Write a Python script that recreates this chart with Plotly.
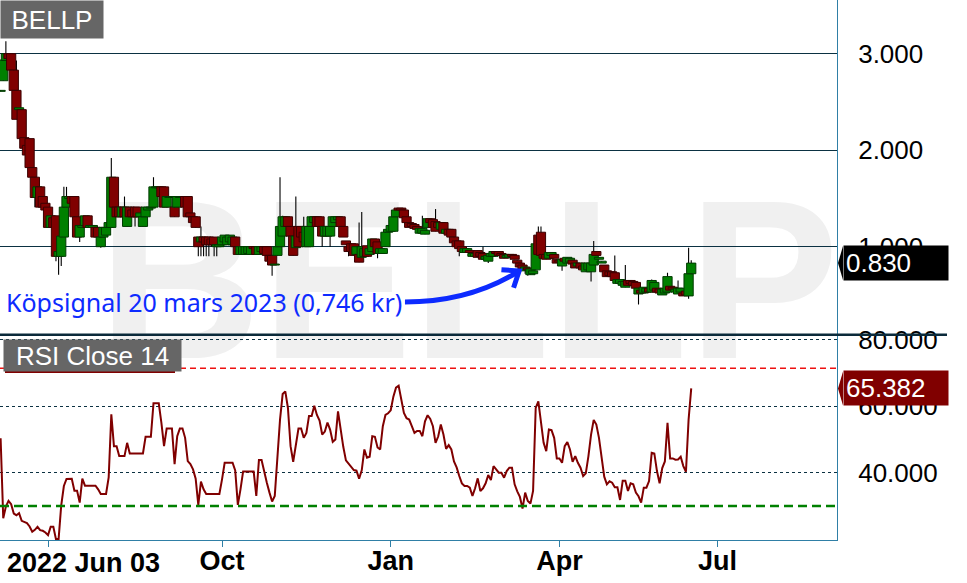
import numpy as np
import pandas as pd
import plotly.graph_objects as go

# ---------------- data ----------------
ticker = "BELLP"
first_date = "2022-06-03"
holidays = ["2022-06-06", "2022-06-24", "2022-12-26", "2023-01-06", "2023-04-07",
            "2023-04-10", "2023-05-01", "2023-05-18", "2023-06-06"]

open_ = [2.61, 2.72, 2.93, 3.00, 3.00, 2.83, 2.62, 2.42, 2.42, 2.13,
         2.05, 2.12, 1.82, 1.72, 1.51, 1.62, 1.52, 1.45, 1.41, 1.20,
         1.30, 1.32, 0.90, 0.90, 1.10, 1.41, 1.50, 1.52, 1.52, 1.31,
         1.10, 1.20, 1.22, 1.32, 1.20, 1.20, 1.20, 1.20, 1.00, 1.10,
         1.12, 1.20, 1.20, 1.72, 1.41, 1.41, 1.31, 1.41, 1.21, 1.41,
         1.38, 1.41, 1.41, 1.31, 1.21, 1.31, 1.38, 1.40, 1.41, 1.61,
         1.61, 1.62, 1.62, 1.41, 1.51, 1.51, 1.41, 1.41, 1.51, 1.51,
         1.52, 1.52, 1.35, 1.31, 1.31, 1.10, 1.05, 1.10, 1.10, 1.10,
         1.08, 1.10, 1.00, 1.00, 1.02, 1.05, 1.02, 1.05, 1.02, 1.10,
         1.00, 0.92, 0.92, 0.92, 0.93, 0.92, 1.00, 1.00, 0.92, 0.95,
         1.00, 1.00, 0.91, 0.91, 0.81, 0.91, 1.00, 1.11, 1.21, 1.31,
         1.21, 1.11, 0.99, 1.21, 1.21, 1.15, 1.00, 1.00, 1.21, 1.25,
         1.31, 1.31, 1.21, 1.11, 1.11, 1.11, 1.21, 1.25, 1.28, 1.31,
         1.21, 1.06, 1.00, 1.03, 1.03, 0.92, 0.92, 0.89, 0.90, 1.01,
         0.92, 0.95, 1.08, 1.05, 0.93, 0.93, 1.00, 1.15, 1.16, 1.16,
         1.31, 1.40, 1.40, 1.38, 1.31, 1.25, 1.24, 1.23, 1.21, 1.14,
         1.14, 1.13, 1.20, 1.29, 1.28, 1.26, 1.25, 1.18, 1.25, 1.14,
         1.18, 1.18, 1.10, 1.06, 1.06, 1.00, 0.94, 0.94, 0.96, 0.90,
         0.90, 0.96, 0.94, 0.93, 0.87, 0.85, 0.90, 0.90, 0.95, 0.95,
         0.93, 0.92, 0.89, 0.89, 0.92, 0.91, 0.86, 0.83, 0.81, 0.75,
         0.78, 0.71, 0.72, 0.76, 1.12, 1.15, 0.92, 0.92, 0.88, 0.91,
         0.92, 0.87, 0.86, 0.80, 0.88, 0.83, 0.84, 0.86, 0.83, 0.80,
         0.83, 0.80, 0.74, 0.76, 0.74, 0.81, 0.95, 0.87, 0.83, 0.81,
         0.75, 0.74, 0.74, 0.73, 0.62, 0.62, 0.60, 0.58, 0.65, 0.65,
         0.64, 0.63, 0.51, 0.55, 0.52, 0.53, 0.57, 0.53, 0.55, 0.57,
         0.56, 0.50, 0.52, 0.53, 0.59, 0.58, 0.53, 0.51, 0.53, 0.52,
         0.54, 0.49, 0.72]

close = [2.62, 2.935, 3.00, 2.95, 2.83, 2.62, 2.32, 2.44, 2.12, 2.02,
         1.95, 1.82, 1.72, 1.51, 1.62, 1.41, 1.41, 1.38, 1.20, 1.32,
         1.20, 0.90, 0.95, 1.11, 1.41, 1.52, 1.52, 1.45, 1.31, 1.10,
         1.22, 1.22, 1.32, 1.20, 1.22, 1.22, 1.10, 1.10, 1.10, 1.20,
         1.20, 1.25, 1.72, 1.41, 1.31, 1.31, 1.41, 1.31, 1.41, 1.31,
         1.31, 1.31, 1.31, 1.35, 1.31, 1.41, 1.41, 1.41, 1.62, 1.62,
         1.62, 1.52, 1.41, 1.52, 1.52, 1.52, 1.31, 1.52, 1.52, 1.52,
         1.41, 1.31, 1.31, 1.25, 1.20, 1.00, 1.10, 1.05, 1.02, 1.02,
         1.02, 1.02, 1.02, 1.02, 1.10, 1.12, 1.10, 1.12, 1.10, 1.00,
         0.92, 1.00, 1.00, 1.00, 1.00, 1.00, 0.98, 0.92, 1.00, 1.00,
         0.93, 0.91, 0.85, 0.81, 0.82, 1.00, 1.21, 1.31, 1.31, 1.21,
         1.11, 0.91, 1.11, 1.00, 1.10, 1.05, 1.21, 1.21, 1.31, 1.31,
         1.21, 1.21, 1.11, 1.21, 1.21, 1.21, 1.31, 1.31, 1.31, 1.21,
         1.10, 1.02, 0.95, 0.95, 0.91, 1.00, 0.84, 1.00, 0.98, 0.90,
         0.98, 1.08, 1.00, 0.93, 0.98, 0.98, 1.15, 1.18, 1.22, 1.31,
         1.38, 1.38, 1.38, 1.30, 1.25, 1.20, 1.21, 1.19, 1.18, 1.19,
         1.19, 1.17, 1.29, 1.25, 1.20, 1.16, 1.20, 1.25, 1.14, 1.18,
         1.12, 1.10, 1.04, 1.00, 0.98, 0.95, 0.98, 0.98, 0.94, 0.93,
         0.93, 0.89, 0.90, 0.87, 0.90, 0.91, 0.93, 0.95, 0.93, 0.91,
         0.91, 0.88, 0.91, 0.92, 0.90, 0.87, 0.83, 0.79, 0.77, 0.79,
         0.76, 0.77, 0.75, 1.03, 0.92, 0.91, 0.88, 0.87, 0.94, 0.94,
         0.88, 0.83, 0.84, 0.87, 0.85, 0.89, 0.88, 0.82, 0.78, 0.83,
         0.78, 0.76, 0.83, 0.83, 0.83, 0.92, 0.91, 0.89, 0.85, 0.74,
         0.69, 0.70, 0.69, 0.65, 0.66, 0.66, 0.64, 0.64, 0.60, 0.62,
         0.60, 0.57, 0.57, 0.52, 0.58, 0.57, 0.53, 0.65, 0.63, 0.53,
         0.52, 0.56, 0.57, 0.69, 0.55, 0.56, 0.56, 0.57, 0.57, 0.49,
         0.50, 0.72, 0.83]

high = [2.62, 2.94, 3.13, 3.00, 3.00, 2.83, 2.93, 2.44, 2.42, 2.13,
        2.05, 2.12, 1.92, 1.72, 1.62, 1.62, 1.52, 1.45, 1.41, 1.32,
        1.30, 1.32, 0.95, 1.11, 1.62, 1.62, 1.52, 1.52, 1.52, 1.31,
        1.22, 1.22, 1.32, 1.32, 1.22, 1.22, 1.20, 1.20, 1.10, 1.20,
        1.20, 1.25, 1.92, 1.72, 1.52, 1.41, 1.41, 1.52, 1.41, 1.41,
        1.38, 1.41, 1.41, 1.35, 1.31, 1.41, 1.41, 1.41, 1.72, 1.62,
        1.62, 1.62, 1.62, 1.52, 1.52, 1.52, 1.41, 1.52, 1.52, 1.52,
        1.52, 1.52, 1.35, 1.31, 1.31, 1.10, 1.21, 1.10, 1.10, 1.10,
        1.08, 1.10, 1.02, 1.02, 1.10, 1.12, 1.10, 1.12, 1.10, 1.10,
        1.00, 1.00, 1.00, 1.00, 1.00, 1.00, 1.00, 1.00, 1.00, 1.00,
        1.00, 1.00, 0.91, 0.91, 0.82, 1.00, 1.72, 1.32, 1.31, 1.31,
        1.21, 1.11, 1.52, 1.21, 1.21, 1.31, 1.21, 1.21, 1.31, 1.31,
        1.31, 1.31, 1.21, 1.21, 1.21, 1.31, 1.31, 1.31, 1.31, 1.31,
        1.21, 1.06, 1.00, 1.03, 1.03, 1.00, 1.25, 1.36, 0.98, 1.01,
        0.98, 1.08, 1.08, 1.05, 0.98, 0.98, 1.15, 1.18, 1.22, 1.31,
        1.38, 1.40, 1.40, 1.38, 1.31, 1.25, 1.24, 1.23, 1.21, 1.19,
        1.32, 1.17, 1.29, 1.29, 1.28, 1.39, 1.25, 1.25, 1.25, 1.18,
        1.18, 1.18, 1.10, 1.06, 1.06, 1.00, 0.98, 0.98, 0.96, 0.93,
        0.93, 0.96, 0.94, 1.00, 0.90, 0.91, 0.93, 0.95, 0.95, 0.95,
        0.93, 0.92, 0.91, 0.92, 0.92, 0.91, 0.86, 0.83, 0.81, 0.79,
        0.78, 0.77, 0.75, 1.03, 1.21, 1.21, 0.92, 0.92, 0.94, 0.94,
        0.92, 0.87, 0.86, 0.87, 0.88, 0.89, 0.88, 0.86, 0.83, 0.83,
        0.83, 0.80, 0.83, 0.83, 0.83, 1.06, 0.95, 0.89, 0.85, 0.81,
        0.75, 0.74, 0.74, 0.91, 0.66, 0.66, 0.64, 0.81, 0.65, 0.65,
        0.64, 0.63, 0.57, 0.55, 0.58, 0.57, 0.57, 0.66, 0.64, 0.57,
        0.56, 0.56, 0.57, 0.73, 0.59, 0.58, 0.56, 0.65, 0.57, 0.52,
        0.54, 0.99, 0.86]

low = [2.61, 2.72, 2.93, 2.95, 2.83, 2.62, 2.32, 2.42, 2.12, 2.02,
       1.95, 1.82, 1.72, 1.41, 1.51, 1.41, 1.41, 1.38, 1.20, 1.20,
       1.20, 0.85, 0.71, 0.80, 1.10, 1.41, 1.50, 1.45, 1.31, 1.10,
       1.05, 1.20, 1.22, 1.20, 1.20, 1.20, 1.10, 1.10, 0.99, 1.10,
       1.12, 1.20, 1.20, 1.41, 1.31, 1.31, 1.31, 1.31, 1.21, 1.31,
       1.31, 1.21, 1.31, 1.21, 1.21, 1.21, 1.38, 1.40, 1.41, 1.61,
       1.61, 1.52, 1.41, 1.41, 1.51, 1.51, 1.31, 1.41, 1.51, 1.51,
       1.41, 1.31, 1.28, 1.22, 1.20, 0.90, 0.90, 0.90, 0.90, 0.90,
       1.00, 0.90, 0.90, 1.00, 1.02, 1.05, 1.02, 1.05, 1.02, 1.00,
       0.92, 0.92, 0.92, 0.92, 0.93, 0.92, 0.98, 0.92, 0.92, 0.95,
       0.93, 0.91, 0.85, 0.70, 0.81, 0.91, 1.00, 1.11, 1.21, 1.21,
       1.11, 0.91, 0.99, 1.00, 1.10, 1.05, 1.00, 1.00, 1.21, 1.25,
       1.21, 1.21, 1.00, 1.11, 1.11, 1.00, 1.21, 1.25, 1.28, 1.21,
       1.10, 1.02, 0.90, 0.95, 0.91, 0.92, 0.84, 0.89, 0.90, 0.90,
       0.92, 0.95, 1.00, 0.88, 0.93, 0.93, 1.00, 1.15, 1.16, 1.16,
       1.31, 1.38, 1.38, 1.30, 1.25, 1.20, 1.21, 1.19, 1.18, 1.14,
       1.14, 1.13, 1.20, 1.25, 1.20, 1.16, 1.20, 1.18, 1.14, 1.14,
       1.12, 1.10, 1.04, 1.00, 0.90, 0.95, 0.94, 0.94, 0.94, 0.90,
       0.90, 0.89, 0.90, 0.87, 0.87, 0.83, 0.90, 0.90, 0.93, 0.91,
       0.91, 0.88, 0.89, 0.89, 0.90, 0.87, 0.83, 0.79, 0.77, 0.72,
       0.70, 0.71, 0.72, 0.76, 0.92, 0.91, 0.88, 0.87, 0.88, 0.91,
       0.88, 0.83, 0.84, 0.75, 0.85, 0.83, 0.84, 0.82, 0.78, 0.80,
       0.78, 0.76, 0.74, 0.76, 0.64, 0.81, 0.91, 0.87, 0.83, 0.74,
       0.69, 0.70, 0.69, 0.65, 0.62, 0.62, 0.60, 0.58, 0.60, 0.62,
       0.60, 0.57, 0.40, 0.52, 0.52, 0.53, 0.53, 0.53, 0.55, 0.53,
       0.52, 0.50, 0.52, 0.53, 0.55, 0.56, 0.53, 0.51, 0.53, 0.49,
       0.50, 0.46, 0.70]

rsi = [50.4, 26.3, 29.8, 31.5, 30.5, 27.7, 27.2, 27.8, 25.5, 25.2,
       24.8, 23.8, 22.2, 22.8, 23.7, 22.7, 22.5, 22.0, 21.2, 23.7,
       23.7, 20.0, 20.0, 30.2, 36.0, 38.1, 38.2, 38.2, 34.6, 34.6,
       31.0, 38.2, 36.1, 36.1, 36.1, 36.1, 36.1, 35.0, 33.6, 33.6,
       33.6, 38.6, 57.6, 48.0, 48.0, 45.0, 45.0, 45.0, 49.0, 45.8,
       45.8, 45.8, 45.8, 45.8, 45.8, 50.8, 50.8, 50.8, 60.9, 60.9,
       60.9, 55.0, 48.0, 53.3, 53.3, 53.3, 42.6, 51.0, 53.3, 53.3,
       50.5, 43.5, 42.6, 41.0, 38.2, 30.3, 37.3, 35.0, 33.6, 33.6,
       33.6, 33.6, 33.6, 33.6, 38.0, 43.0, 43.0, 43.0, 43.0, 40.7,
       30.3, 35.0, 40.4, 40.4, 40.4, 40.4, 40.4, 33.0, 43.8, 43.8,
       40.0, 37.0, 34.0, 31.3, 33.0, 44.0, 56.0, 63.7, 64.5, 59.5,
       48.0, 43.3, 49.0, 53.3, 53.3, 50.5, 52.0, 57.1, 57.1, 60.2,
       57.4, 55.7, 51.5, 52.4, 55.1, 53.0, 49.3, 50.0, 58.5, 52.4,
       47.8, 43.7, 42.7, 42.0, 40.8, 40.6, 38.2, 40.7, 47.0, 44.5,
       44.8, 51.0, 50.8, 47.6, 47.0, 54.0, 57.4, 57.9, 58.8, 62.9,
       65.6, 66.2, 62.6, 58.0, 56.4, 56.0, 54.0, 52.0, 52.6, 52.6,
       51.0, 55.5, 57.3, 56.2, 54.0, 49.0, 50.9, 54.5, 51.5, 47.2,
       48.3, 47.0, 43.4, 41.6, 39.0, 36.8, 36.0, 36.0, 35.5, 33.0,
       35.3, 38.3, 34.5, 35.3, 36.8, 39.3, 37.8, 42.0, 41.0, 40.0,
       40.0, 38.5, 40.5, 41.5, 41.5, 36.5, 34.4, 32.7, 29.2, 34.0,
       31.5, 30.7, 34.5, 59.5, 61.5, 55.0, 49.0, 46.5, 53.0, 52.8,
       50.5, 44.3, 44.3, 43.0, 48.0, 49.2, 47.0, 43.3, 45.0, 43.0,
       41.5, 39.0, 39.8, 45.0, 51.5, 55.9, 54.5, 50.5, 44.0, 38.8,
       36.5, 37.4, 37.0, 35.6, 35.6, 31.8, 37.6, 37.6, 34.5, 36.8,
       36.5, 34.0, 32.9, 31.0, 35.5, 35.5, 37.5, 46.0, 45.8, 40.5,
       36.8, 41.4, 43.4, 55.0, 44.3, 44.3, 43.9, 44.0, 44.8, 42.0,
       40.3, 56.0, 65.382]

rsi_upper = 71.5
rsi_lower = 30
price_ticks = [1, 2, 3]
rsi_ticks = [40, 60, 80]
tick_months = ["2022-07-01", "2022-10-01", "2023-01-01", "2023-04-01", "2023-07-01"]
tick_labels = ["", "Oct", "Jan", "Apr", "Jul"]
signal_text = "Köpsignal 20 mars 2023 (0,746 kr)"

# ---------------- geometry ----------------
W, H = 967, 583
MR, MB = 130, 43
PW, PH = W - MR, H - MB          # 837 x 540
split_px = 334.7
dom_split = 1 - split_px / PH
x_range = [-0.23, 317.3]
y_range = [0.0881, 3.5565]
y2_range = [19.73, 81.57]
px_per_price = split_px / (y_range[1] - y_range[0])
px_per_rsi = (PH - split_px) / (y2_range[1] - y2_range[0])

dates = pd.bdate_range(first_date, "2023-09-29")
dates = dates[~dates.isin(pd.to_datetime(holidays))]
n = len(close)
xi = np.arange(n)
tick_idx = [int(np.searchsorted(dates.values, np.datetime64(m))) for m in tick_months]

o = np.array(open_); c = np.array(close); hi = np.array(high); lo = np.array(low)
up = c >= o
fill = np.where(up, "#008000", "#800000")
edge = np.where(up, "#003a00", "#3a0000")

fig = go.Figure()
# wicks (drawn first, below bodies)
fig.add_trace(go.Bar(x=xi, base=lo, y=hi - lo, width=0.42,
                     marker=dict(color="#000000", line=dict(width=0)),
                     xaxis="x", yaxis="y", hoverinfo="skip", showlegend=False))
# bodies
fig.add_trace(go.Bar(x=xi, base=np.minimum(o, c), y=np.maximum(np.abs(c - o), 0.004), width=3.5,
                     marker=dict(color=fill, line=dict(color=edge, width=1)),
                     xaxis="x", yaxis="y", hoverinfo="skip", showlegend=False))
# RSI
fig.add_trace(go.Scatter(x=xi, y=rsi, mode="lines", line=dict(color="#800000", width=2),
                         xaxis="x2", yaxis="y2", hoverinfo="skip", showlegend=False))

axis_col = "#2f7fa6"
grid_col = "#0b3142"
tickfont = dict(family="Liberation Sans, Arial, sans-serif", size=26, color="black")
datefont = dict(family="Liberation Sans, Arial, sans-serif", size=27, color="black", weight="bold")

fig.update_layout(
    width=W, height=H, margin=dict(l=0, r=MR, t=0, b=MB, pad=0, autoexpand=False),
    paper_bgcolor="white", plot_bgcolor="rgba(0,0,0,0)",
    barmode="overlay", showlegend=False, hovermode=False,
    xaxis=dict(domain=[0, 1], anchor="y", range=x_range, showticklabels=False, automargin=False,
               showgrid=False, zeroline=False, showline=False, ticks=""),
    yaxis=dict(domain=[dom_split, 1], anchor="x", side="right", range=y_range, automargin=False,
               tickvals=price_ticks, ticktext=[f"{v:.3f}" for v in price_ticks],
               tickfont=tickfont, showgrid=True, gridcolor=grid_col, gridwidth=1,
               zeroline=False, showline=True, linecolor=axis_col, linewidth=1,
               ticks="", ticklabelstandoff=15),
    xaxis2=dict(domain=[0, 1], anchor="y2", matches="x", range=x_range, automargin=False,
                tickvals=tick_idx, ticktext=tick_labels, tickfont=datefont,
                showgrid=False, zeroline=False, showline=True, linecolor=axis_col, linewidth=1,
                ticks="outside", ticklen=6, tickcolor=axis_col, ticklabelstandoff=-9),
    yaxis2=dict(domain=[0, dom_split], anchor="x2", side="right", range=y2_range, automargin=False,
                tickvals=rsi_ticks, ticktext=[f"{v:.3f}" for v in rsi_ticks],
                tickfont=tickfont, showgrid=True, gridcolor=grid_col, gridwidth=1, griddash="dot",
                zeroline=False, showline=True, linecolor=axis_col, linewidth=1,
                ticks="", ticklabelstandoff=15),
)

shapes = []
# watermark (caps intended to span ~y 195..355 px, x 108..837 px)
wm_cx, wm_cy = 468.5, 258
shapes.append(dict(type="rect", xref="paper", yref="paper",
                   x0=(wm_cx - 380) / PW, x1=(wm_cx + 380) / PW,
                   y0=(PH - (wm_cy + 100)) / PH, y1=(PH - (wm_cy - 100)) / PH,
                   line=dict(width=0), fillcolor="rgba(0,0,0,0)", layer="below",
                   label=dict(text=ticker, textposition="middle center", padding=0,
                              font=dict(family="Liberation Sans, Arial, sans-serif", size=226,
                                        color="#f0f0f0", weight="bold"))))
# RSI levels
shapes.append(dict(type="line", xref="paper", yref="y2", x0=0, x1=1, y0=rsi_upper, y1=rsi_upper,
                   line=dict(color="#ee1111", width=1.5, dash="6px,4px")))
shapes.append(dict(type="line", xref="paper", yref="y2", x0=0, x1=1, y0=rsi_lower, y1=rsi_lower,
                   line=dict(color="#008000", width=2.5, dash="9px,5px")))
# panel separator
shapes.append(dict(type="line", xref="paper", yref="paper", x0=0, x1=947 / PW, y0=dom_split, y1=dom_split,
                   line=dict(color="#0b2a3a", width=2.5)))
# last-value tag pointers
tip_x, base_x = 838 / PW, 843 / PW
hh_p = 17 / px_per_price
hh_r = 17 / px_per_rsi
yl = close[-1]
shapes.append(dict(type="path", xref="paper", yref="y",
                   path=f"M {base_x},{yl + hh_p} L {tip_x},{yl} L {base_x},{yl - hh_p} Z",
                   fillcolor="black", line=dict(width=0)))
yr = rsi[-1]
shapes.append(dict(type="path", xref="paper", yref="y2",
                   path=f"M {base_x},{yr + hh_r} L {tip_x},{yr} L {base_x},{yr - hh_r} Z",
                   fillcolor="#800000", line=dict(width=0)))
# RSI label underline
shapes.append(dict(type="line", xref="paper", yref="paper", x0=5 / PW, x1=175 / PW,
                   y0=(PH - 371.5) / PH, y1=(PH - 371.5) / PH, line=dict(color="#800000", width=3)))

# signal arrow (quadratic curve + open head)
blue = "#0d2bff"
p0 = (153.4, 0.427); cp = (178.1, 0.427); p1 = (196.7, 0.748)
shapes.append(dict(type="path", xref="x", yref="y",
                   path=f"M {p0[0]},{p0[1]} Q {cp[0]},{cp[1]} {p1[0]},{p1[1]}",
                   line=dict(color=blue, width=5)))
shapes.append(dict(type="path", xref="x", yref="y",
                   path=f"M 190.0,0.762 L {p1[0]},{p1[1]} L 194.6,0.574",
                   line=dict(color=blue, width=5)))
fig.update_layout(shapes=shapes)

ann = []
ann.append(dict(xref="paper", yref="paper", x=0, y=1, xanchor="left", yanchor="top",
                text=ticker, showarrow=False, bgcolor="#666666",
                font=dict(family="Liberation Sans, Arial, sans-serif", size=26, color="white"),
                width=96, height=31, borderpad=3, align="center"))
ann.append(dict(xref="paper", yref="paper", x=3 / PW, y=(PH - 339) / PH, xanchor="left", yanchor="top",
                text="RSI Close 14", showarrow=False, bgcolor="#666666",
                font=dict(family="Liberation Sans, Arial, sans-serif", size=26, color="white"),
                width=173, height=27, borderpad=2, align="center"))
ann.append(dict(xref="paper", yref="y", x=843 / PW, y=close[-1], xanchor="left", yanchor="middle",
                text=f"{close[-1]:.3f}", showarrow=False, bgcolor="black",
                font=dict(family="Liberation Sans, Arial, sans-serif", size=26, color="white"),
                width=100, height=30, borderpad=2, align="left"))
ann.append(dict(xref="paper", yref="y2", x=843 / PW, y=rsi[-1], xanchor="left", yanchor="middle",
                text=f"{rsi[-1]:.3f}", showarrow=False, bgcolor="#800000",
                font=dict(family="Liberation Sans, Arial, sans-serif", size=26, color="white"),
                width=100, height=30, borderpad=2, align="left"))
ann.append(dict(xref="paper", yref="paper", x=5 / PW, y=0, xanchor="left", yanchor="top", yshift=-6,
                text=pd.Timestamp(first_date).strftime("%Y %b %d"), showarrow=False, font=datefont))
ann.append(dict(xref="paper", yref="paper", x=4 / PW, y=(PH - 302) / PH, xanchor="left", yanchor="middle",
                text=signal_text, showarrow=False,
                font=dict(family="Noto Sans, Open Sans, sans-serif", size=25, color=blue)))
fig.update_layout(annotations=ann)

fig.write_html("out.html", config={"staticPlot": True},
               post_script="document.body.style.margin='0px';document.body.style.overflow='hidden';")
